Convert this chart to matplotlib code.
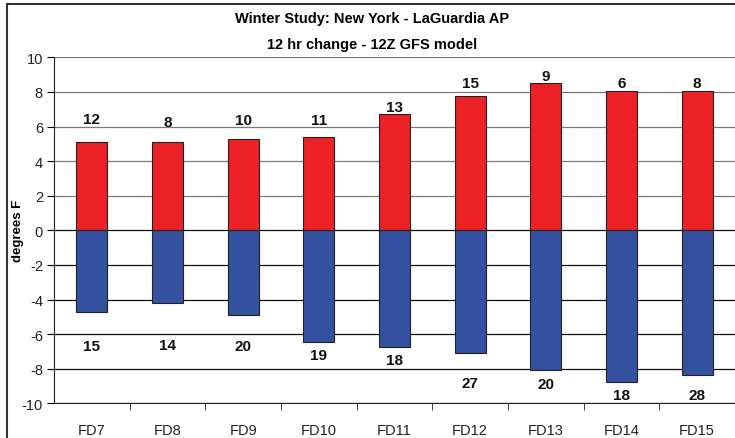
import matplotlib
matplotlib.use("Agg")
import matplotlib.pyplot as plt
from matplotlib.lines import Line2D
import numpy as np

plt.rcParams['font.family'] = ['Liberation Sans', 'DejaVu Sans']
plt.rcParams['axes.unicode_minus'] = False

categories = ["FD7", "FD8", "FD9", "FD10", "FD11", "FD12", "FD13", "FD14", "FD15"]
warm_change = [5.13, 5.13, 5.28, 5.40, 6.70, 7.76, 8.53, 8.07, 8.07]
cold_change = [-4.73, -4.23, -4.90, -6.44, -6.72, -7.11, -8.06, -8.74, -8.35]
warm_counts = [12, 8, 10, 11, 13, 15, 9, 6, 8]
cold_counts = [15, 14, 20, 19, 18, 27, 20, 18, 28]

# label offsets from bar ends (pixels)
warm_label_offset = [23, 20, 19, 17, 7, 13, 7, 8, 8]
cold_label_offset = [34, 42, 31, 13, 13, 30, 14, 13, 20]

W, H = 735, 439
fig = plt.figure(figsize=(W / 100, H / 100), dpi=100)
ax = fig.add_axes([54 / W, 1 - 404.3 / H, (735 - 54) / W, (404.3 - 58.3) / H])

x = np.arange(len(categories))
bw = 0.41
ax.bar(x, warm_change, width=bw, color='#ED2226', edgecolor='#222222', linewidth=0.8, zorder=3)
ax.bar(x, cold_change, width=bw, color='#3450A0', edgecolor='#222222', linewidth=0.8, zorder=3)

for i in range(len(categories)):
    ax.annotate(str(warm_counts[i]), (x[i], warm_change[i]), xytext=(0, warm_label_offset[i]),
                textcoords='offset pixels', ha='center', va='center', fontsize=11,
                fontweight='bold', color='#111111')
    ax.annotate(str(cold_counts[i]), (x[i], cold_change[i]), xytext=(0, -cold_label_offset[i]),
                textcoords='offset pixels', ha='center', va='center', fontsize=11,
                fontweight='bold', color='#111111')

ax.set_xlim(-0.5, len(categories) - 0.5)
ax.set_ylim(-10, 10)
yt = np.arange(-10, 11, 2)
ax.set_yticks(yt)
ax.yaxis.grid(True, color='#222222', linewidth=0.9, zorder=0)
for v, gl in zip(yt, ax.get_ygridlines()):
    gl.set_color('#7a7a7a' if v > 0 else '#111111')
ax.set_axisbelow(True)

ax.set_xticks(x)
ax.set_xticklabels(categories)
ax.set_xticks(np.arange(0.5, len(categories) - 0.5, 1), minor=True)
ax.tick_params(axis='x', which='major', length=0, pad=14, labelsize=10.5, labelcolor='#222222')
ax.tick_params(axis='x', which='minor', length=5, direction='out', color='#222222')
ax.tick_params(axis='y', length=5, direction='out', labelsize=10.5, labelcolor='#222222', pad=3)

for s in ['top', 'right']:
    ax.spines[s].set_visible(False)
ax.spines['left'].set_color('#222222')
ax.spines['bottom'].set_color('#222222')

fig.text(18 / W, 1 - 231 / H, "degrees F", rotation=90, ha='center', va='center',
         fontsize=9.5, fontweight='bold')
fig.text(372 / W, 1 - 19 / H, "Winter Study: New York - LaGuardia AP", ha='center', va='center',
         fontsize=10.5, fontweight='bold')
fig.text(372 / W, 1 - 45 / H, "12 hr change - 12Z GFS model", ha='center', va='center',
         fontsize=10.5, fontweight='bold')

# outer chart frame
fig.add_artist(Line2D([7 / W, 7 / W], [0, 1 - 5 / H], transform=fig.transFigure, color='#333333', linewidth=1.5))
fig.add_artist(Line2D([7 / W, 1], [1 - 5 / H, 1 - 5 / H], transform=fig.transFigure, color='#333333', linewidth=1.5))

fig.savefig("out.png", dpi=100)
